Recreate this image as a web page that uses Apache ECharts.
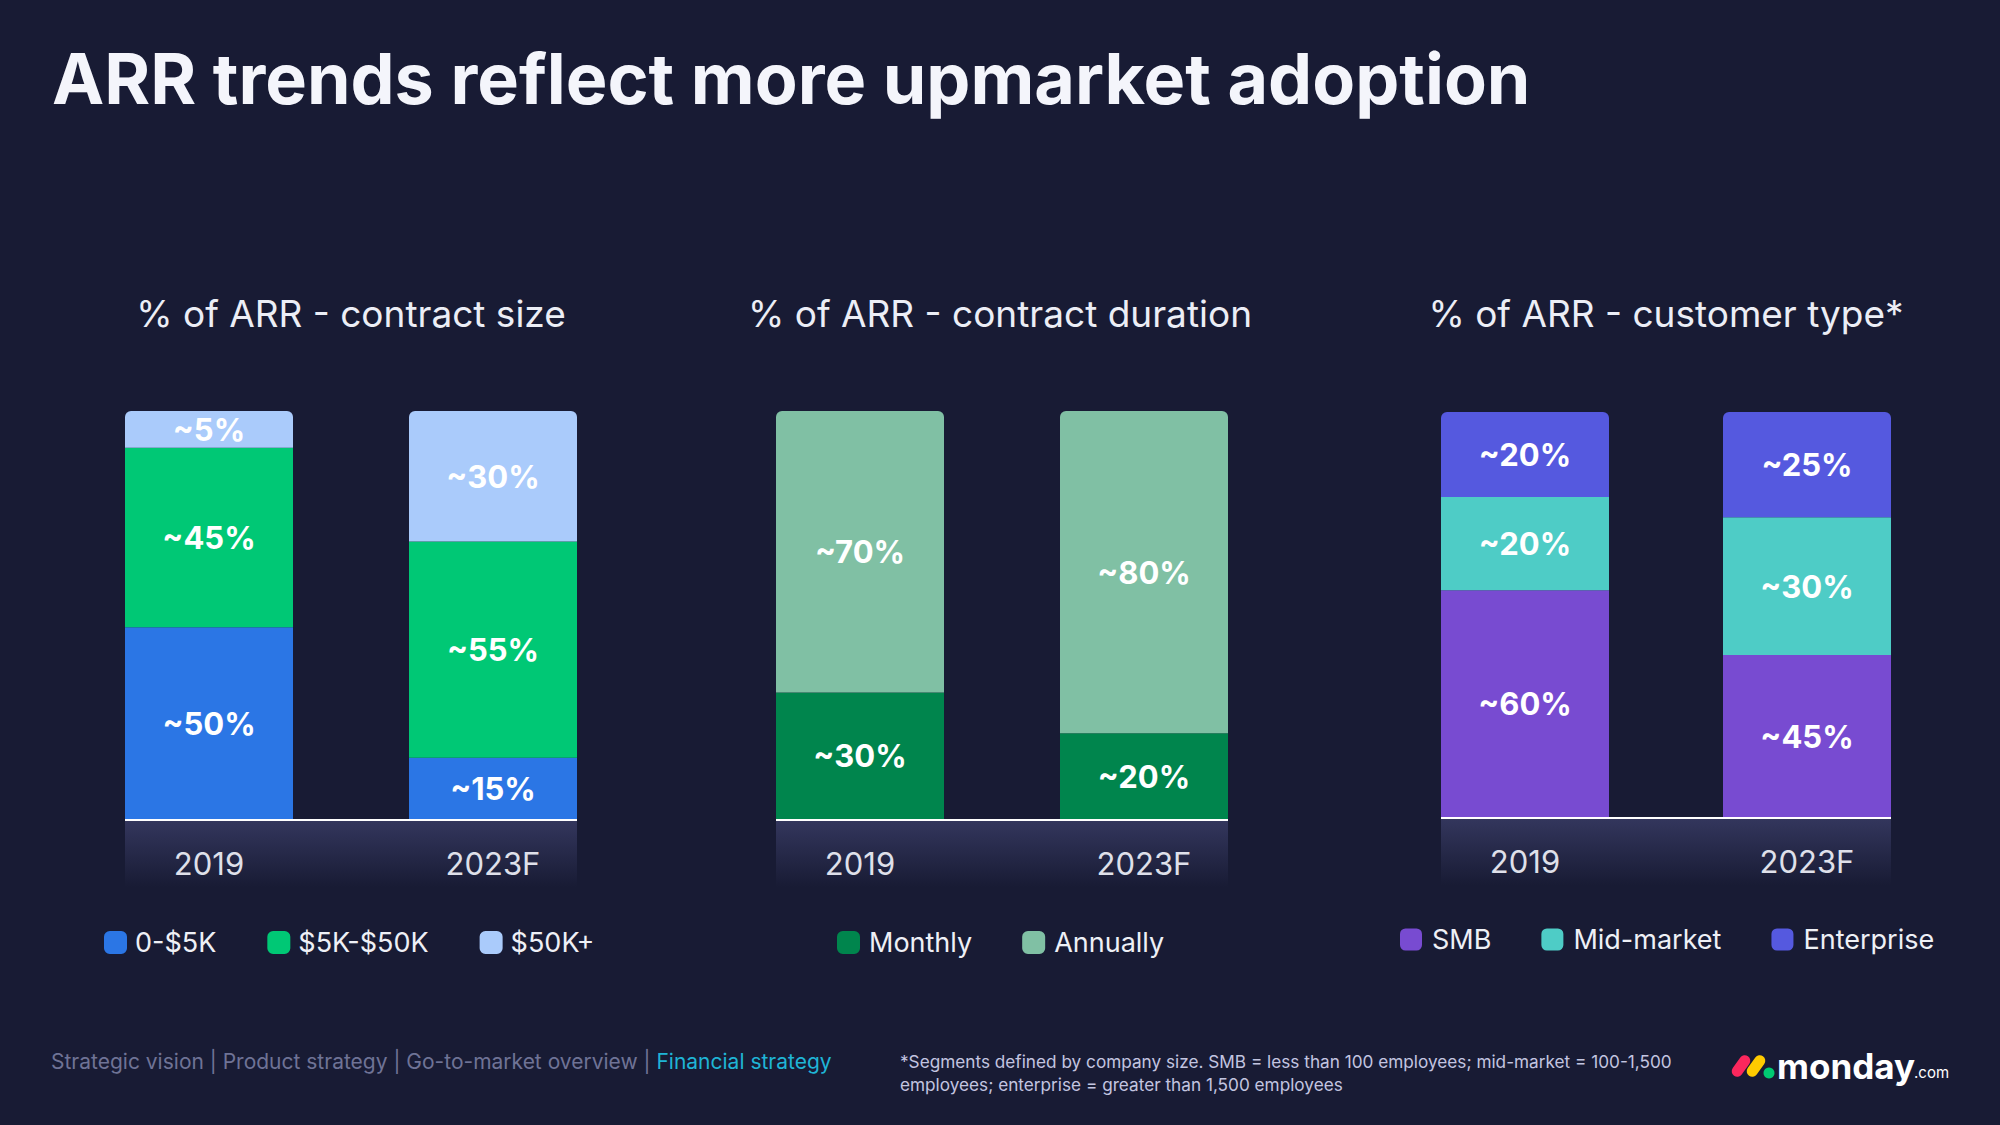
<!DOCTYPE html>
<html>
<head>
<meta charset="utf-8">
<style>
html,body{margin:0;padding:0;background:#181b34;}
#chart{width:2000px;height:1125px;}
</style>
<script src="https://cdn.jsdelivr.net/npm/echarts@6/dist/echarts.min.js"></script>
</head>
<body>
<div id="chart"></div>
<script>
// ---------- data ----------
const categories = ['2019', '2023F'];

const sizeNames = ['0-$5K', '$5K-$50K', '$50K+'];
const size0to5k = [47, 15];
const size5to50k = [44, 53];
const size50kPlus = [9, 32];
const size0to5kLabels = ['~50%', '~15%'];
const size5to50kLabels = ['~45%', '~55%'];
const size50kPlusLabels = ['~5%', '~30%'];

const durationNames = ['Monthly', 'Annually'];
const durationMonthly = [31, 21];
const durationAnnually = [69, 79];
const durationMonthlyLabels = ['~30%', '~20%'];
const durationAnnuallyLabels = ['~70%', '~80%'];

const customerNames = ['SMB', 'Mid-market', 'Enterprise'];
const customerSMB = [56, 40];
const customerMid = [23, 34];
const customerEnt = [21, 26];
const customerSMBLabels = ['~60%', '~45%'];
const customerMidLabels = ['~20%', '~30%'];
const customerEntLabels = ['~20%', '~25%'];

const mainTitle = 'ARR trends reflect more upmarket adoption';
const panelTitles = ['% of ARR - contract size', '% of ARR - contract duration', '% of ARR - customer type*'];
const navItems = 'Strategic vision | Product strategy | Go-to-market overview | ';
const navActive = 'Financial strategy';
const footnote1 = '*Segments defined by company size. SMB = less than 100 employees; mid-market = 100-1,500';
const footnote2 = 'employees; enterprise = greater than 1,500 employees';

// ---------- styles ----------
const BG = '#181b34';
const FONT = 'Inter, "Noto Sans", sans-serif';
const grids = [
  {left: 209, width: 284, top: 411, height: 408},
  {left: 860, width: 284, top: 411, height: 408},
  {left: 1525, width: 282, top: 412, height: 405}
];
const barWidths = [168, 168, 168];

function labelOf(arr) {
  return {
    show: true, position: 'inside', color: '#ffffff', fontFamily: FONT,
    fontWeight: 700, fontSize: 31,
    formatter: p => arr[p.dataIndex]
  };
}
function barSeries(name, data, labels, color, gi, stack, top) {
  return {
    type: 'bar', name: name, data: data, stack: stack,
    xAxisIndex: gi, yAxisIndex: gi, barWidth: barWidths[gi],
    itemStyle: {color: color, borderRadius: top ? [6, 6, 0, 0] : 0},
    label: labelOf(labels),
    emphasis: {disabled: true}
  };
}
function legendOf(names, left, top, size, gap, textPad) {
  return {
    data: names, left: left, top: top, orient: 'horizontal', padding: 0,
    itemWidth: size, itemHeight: size, itemGap: gap, icon: 'roundRect',
    selectedMode: false,
    textStyle: {color: '#eef0f6', fontSize: 27, fontFamily: FONT, padding: [0, 0, 0, textPad]}
  };
}

const chart = echarts.init(document.getElementById('chart'), null, {renderer: 'svg'});
const option = {
  backgroundColor: BG,
  animation: false,
  title: [{
    text: mainTitle, left: 47, top: 38,
    textStyle: {color: '#f4f5fb', fontSize: 70, fontWeight: 700, fontFamily: FONT}
  }],
  grid: grids.map(g => Object.assign({containLabel: false}, g)),
  xAxis: grids.map((g, i) => ({
    type: 'category', gridIndex: i, data: categories, boundaryGap: false,
    axisLine: {show: false}, axisTick: {show: false},
    axisLabel: {color: '#dfe0ea', fontSize: 31, fontFamily: FONT, margin: 29}
  })),
  yAxis: grids.map((g, i) => ({
    type: 'value', gridIndex: i, min: 0, max: 100, show: false, splitLine: {show: false}
  })),
  legend: [
    legendOf(sizeNames, 104, 929, 23, 51, 3),
    legendOf(durationNames, 837, 929, 23, 50, 4),
    legendOf(customerNames, 1400, 926, 22, 50, 5)
  ],
  series: [
    barSeries(sizeNames[0], size0to5k, size0to5kLabels, '#2b76e5', 0, 's', false),
    barSeries(sizeNames[1], size5to50k, size5to50kLabels, '#00c875', 0, 's', false),
    barSeries(sizeNames[2], size50kPlus, size50kPlusLabels, '#aacbfb', 0, 's', true),
    barSeries(durationNames[0], durationMonthly, durationMonthlyLabels, '#00854d', 1, 'd', false),
    barSeries(durationNames[1], durationAnnually, durationAnnuallyLabels, '#80c0a4', 1, 'd', true),
    barSeries(customerNames[0], customerSMB, customerSMBLabels, '#784bd1', 2, 'c', false),
    barSeries(customerNames[1], customerMid, customerMidLabels, '#4eccc6', 2, 'c', false),
    barSeries(customerNames[2], customerEnt, customerEntLabels, '#5559df', 2, 'c', true)
  ]
};
chart.setOption(option);

// ---------- decorations (axis band, baseline, panel titles, footer, logo) ----------
const graphics = [];
grids.forEach((g, i) => {
  const x0 = chart.convertToPixel({xAxisIndex: i}, categories[0]) - barWidths[i] / 2;
  const x1 = chart.convertToPixel({xAxisIndex: i}, categories[categories.length - 1]) + barWidths[i] / 2;
  const yb = chart.convertToPixel({yAxisIndex: i}, 0);
  graphics.push({
    type: 'rect', z: -10, silent: true,
    shape: {x: x0, y: yb, width: x1 - x0, height: 68},
    style: {fill: new echarts.graphic.LinearGradient(0, 0, 0, 1, [
      {offset: 0, color: '#34375e'}, {offset: 1, color: BG}
    ])}
  });
  graphics.push({
    type: 'line', z: 10, silent: true,
    shape: {x1: x0, y1: yb + 1, x2: x1, y2: yb + 1},
    style: {stroke: '#ffffff', lineWidth: 2}
  });
});
const panelTitleX = [351, 1000, 1666];
panelTitles.forEach((t, i) => {
  graphics.push({
    type: 'text', silent: true, x: panelTitleX[i], y: 313,
    style: {text: t, fill: '#eceef6', fontSize: 37, fontFamily: FONT,
      align: 'center', verticalAlign: 'middle'}
  });
});
graphics.push({
  type: 'text', silent: true, x: 51, y: 1061,
  style: {
    text: '{a|' + navItems + '}{b|' + navActive + '}',
    verticalAlign: 'middle', align: 'left',
    rich: {
      a: {fill: '#6f7396', fontSize: 21, fontFamily: FONT},
      b: {fill: '#1fb5d6', fontSize: 21, fontFamily: FONT}
    }
  }
});
graphics.push({
  type: 'text', silent: true, x: 900, y: 1061,
  style: {text: footnote1, fill: '#c3c5e0', fontSize: 17.2, fontFamily: FONT, verticalAlign: 'middle'}
});
graphics.push({
  type: 'text', silent: true, x: 900, y: 1084,
  style: {text: footnote2, fill: '#c3c5e0', fontSize: 17.2, fontFamily: FONT, verticalAlign: 'middle'}
});
// logo
graphics.push({
  type: 'rect', silent: true, x: 1741, y: 1066, rotation: -0.62,
  shape: {x: -5.5, y: -12, width: 11, height: 24, r: 5.5}, style: {fill: '#fb275d'}
});
graphics.push({
  type: 'rect', silent: true, x: 1756, y: 1066, rotation: -0.62,
  shape: {x: -5.5, y: -12, width: 11, height: 24, r: 5.5}, style: {fill: '#ffcb00'}
});
graphics.push({
  type: 'circle', silent: true, shape: {cx: 1769, cy: 1073, r: 5.5}, style: {fill: '#00ca72'}
});
graphics.push({
  type: 'text', silent: true, x: 1777, y: 1083,
  style: {text: 'monday', fill: '#ffffff', fontSize: 35, fontWeight: 700, fontFamily: FONT,
    verticalAlign: 'bottom', align: 'left'}
});
graphics.push({
  type: 'text', silent: true, x: 1914, y: 1080,
  style: {text: '.com', fill: '#ffffff', fontSize: 15, fontFamily: FONT,
    verticalAlign: 'bottom', align: 'left'}
});
chart.setOption({graphic: graphics});
</script>
</body>
</html>
